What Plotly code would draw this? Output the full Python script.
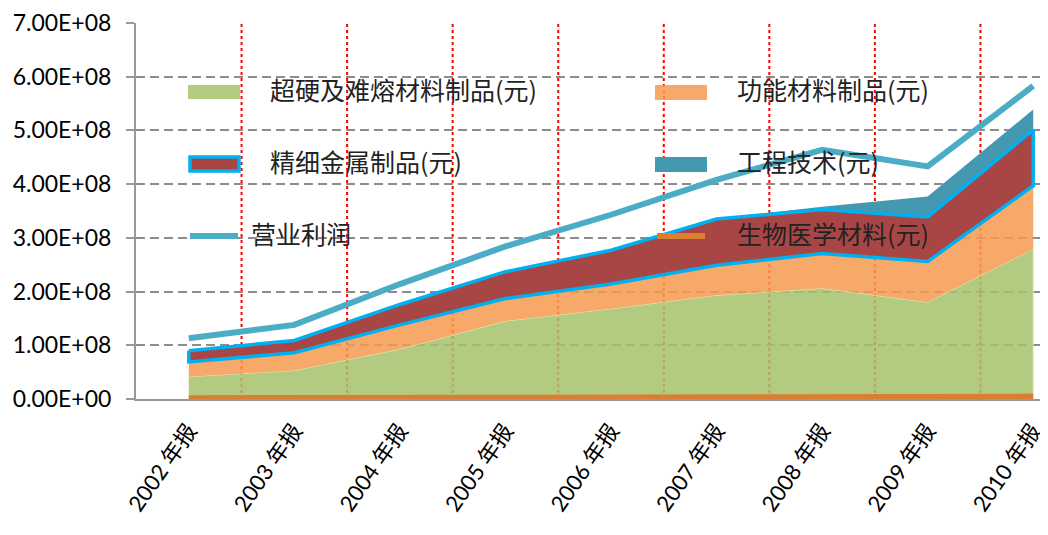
import plotly.graph_objects as go

# ---------------- data ----------------
categories = ["2002 年报", "2003 年报", "2004 年报", "2005 年报", "2006 年报",
              "2007 年报", "2008 年报", "2009 年报", "2010 年报"]
superhard = [0.415e8, 0.53e8, 0.93e8, 1.45e8, 1.68e8, 1.93e8, 2.06e8, 1.80e8, 2.79e8]
functional = [0.275e8, 0.33e8, 0.45e8, 0.42e8, 0.46e8, 0.56e8, 0.65e8, 0.76e8, 1.18e8]
finemetal = [0.21e8, 0.23e8, 0.38e8, 0.50e8, 0.63e8, 0.86e8, 0.82e8, 0.83e8, 1.04e8]
engineering = [0.0, 0.0, 0.0, 0.0, 0.0, 0.01e8, 0.05e8, 0.38e8, 0.38e8]
profit = [1.13e8, 1.38e8, 2.14e8, 2.84e8, 3.43e8, 4.08e8, 4.64e8, 4.33e8, 5.83e8]
biomed = [0.02e8, 0.02e8, 0.025e8, 0.03e8, 0.03e8, 0.03e8, 0.035e8, 0.04e8, 0.05e8]

names = ["超硬及难熔材料制品(元)", "功能材料制品(元)", "精细金属制品(元)",
         "工程技术(元)", "营业利润", "生物医学材料(元)"]
ytickvals = [0, 1e8, 2e8, 3e8, 4e8, 5e8, 6e8, 7e8]
yticktext = ["0.00E+00", "1.00E+08", "2.00E+08", "3.00E+08",
             "4.00E+08", "5.00E+08", "6.00E+08", "7.00E+08"]

# ---------------- styles ----------------
C_GREEN = "rgba(166,194,106,0.85)"
C_ORANGE = "rgba(246,154,80,0.85)"
C_RED = "#A84646"
C_TEAL = "#4499B0"
C_CYAN = "#00B0F0"
C_PROFIT = "#4BACC6"
C_BIO = "#DA7E33"

OFF = 8  # page body margin
W, H = 1048 - OFF, 535 - OFF
L, T, B, R = 128, 15, 136, 0
PW, PH = W - L - R, H - T - B

# cumulative stacks
s1 = superhard
s2 = [a + b for a, b in zip(s1, functional)]
s3 = [a + b for a, b in zip(s2, finemetal)]
s4 = [a + b for a, b in zip(s3, engineering)]

rev = categories[::-1]

fig = go.Figure()

# green area
fig.add_trace(go.Scatter(x=categories + rev, y=s1 + [0] * len(s1), fill="toself",
                         fillcolor=C_GREEN, mode="lines",
                         line=dict(color="rgba(230,236,200,0.9)", width=1),
                         showlegend=False, hoverinfo="skip", name=names[0]))
# orange area
fig.add_trace(go.Scatter(x=categories + rev, y=s2 + s1[::-1], fill="toself",
                         fillcolor=C_ORANGE, mode="lines", line=dict(width=0),
                         showlegend=False, hoverinfo="skip", name=names[1]))
# teal area
fig.add_trace(go.Scatter(x=categories + rev, y=s4 + s3[::-1], fill="toself",
                         fillcolor=C_TEAL, mode="lines", line=dict(width=0),
                         showlegend=False, hoverinfo="skip", name=names[3]))
# red area with cyan outline
fig.add_trace(go.Scatter(x=categories + rev + categories[:1], y=s3 + s2[::-1] + s3[:1],
                         fill="toself", fillcolor=C_RED, mode="lines",
                         line=dict(color=C_CYAN, width=3.5),
                         showlegend=False, hoverinfo="skip", name=names[2]))
# profit line
fig.add_trace(go.Scatter(x=categories, y=profit, mode="lines",
                         line=dict(color=C_PROFIT, width=6),
                         showlegend=False, name=names[4]))
# biomedical line
fig.add_trace(go.Scatter(x=categories, y=biomed, mode="lines",
                         line=dict(color=C_BIO, width=5.5),
                         showlegend=False, name=names[5]))

shapes = []
# vertical red dotted separators between categories
for i in range(len(categories) - 1):
    shapes.append(dict(type="line", xref="x", yref="paper", x0=i + 0.5, x1=i + 0.5,
                       y0=0, y1=1, layer="below",
                       line=dict(color="#FF0000", width=2, dash="dot")))


def px(x):
    return (x - OFF - L) / PW


def py(y):
    return (T + PH - (y - OFF)) / PH


# manual legend (positions in page pixels)
legend_items = [
    ("rect", 188, 85, 240, 99, C_GREEN, None, 268, 89, names[0]),
    ("rect", 655, 85, 707, 100, C_ORANGE, None, 735, 89, names[1]),
    ("rect", 190, 157, 239, 171, C_RED, C_CYAN, 268, 161, names[2]),
    ("rect", 655, 157, 707, 172, C_TEAL, None, 735, 161, names[3]),
    ("line", 190, 236, 238, 236, C_PROFIT, None, 249, 233, names[4]),
    ("line", 657, 236, 705, 236, C_BIO, None, 735, 233, names[5]),
]
annotations = []
for kind, x0, y0, x1, y1, col, border, tx, ty, label in legend_items:
    if kind == "rect":
        shapes.append(dict(type="rect", xref="paper", yref="paper",
                           x0=px(x0), x1=px(x1), y0=py(y1), y1=py(y0),
                           fillcolor=col,
                           line=dict(color=border if border else col,
                                     width=3.5 if border else 0),
                           layer="above"))
    else:
        shapes.append(dict(type="line", xref="paper", yref="paper",
                           x0=px(x0), x1=px(x1), y0=py(y0), y1=py(y1),
                           line=dict(color=col, width=6), layer="above"))
    annotations.append(dict(xref="paper", yref="paper", x=px(tx), y=py(ty),
                            xanchor="left", yanchor="middle", showarrow=False,
                            text=label,
                            font=dict(family="Noto Sans CJK SC", size=25, color="#222222")))

fig.update_layout(
    width=W, height=H,
    margin=dict(l=L, r=R, t=T, b=B, pad=0),
    paper_bgcolor="white", plot_bgcolor="white",
    shapes=shapes, annotations=annotations,
    showlegend=False,
    xaxis=dict(type="category", categoryorder="array", categoryarray=categories,
               range=[-0.5, 8.14], showgrid=False, zeroline=False,
               showline=True, linecolor="#999999", linewidth=2,
               ticks="", tickangle=-55,
               tickfont=dict(family="Lato, Noto Sans CJK SC", size=22, color="#000000"),
               ticklabelstandoff=8),
    yaxis=dict(range=[0, 7e8], tickvals=ytickvals, ticktext=yticktext,
               showgrid=True, gridcolor="#8C8C8C", gridwidth=1.5, griddash="9px,5px",
               zeroline=False, showline=True, linecolor="#999999", linewidth=2,
               ticks="outside", ticklen=8, tickcolor="#999999", tickwidth=1.5,
               tickfont=dict(family="Lato", size=23, color="#000000"),
               ticklabelstandoff=10),
)

fig.write_html("out.html")
